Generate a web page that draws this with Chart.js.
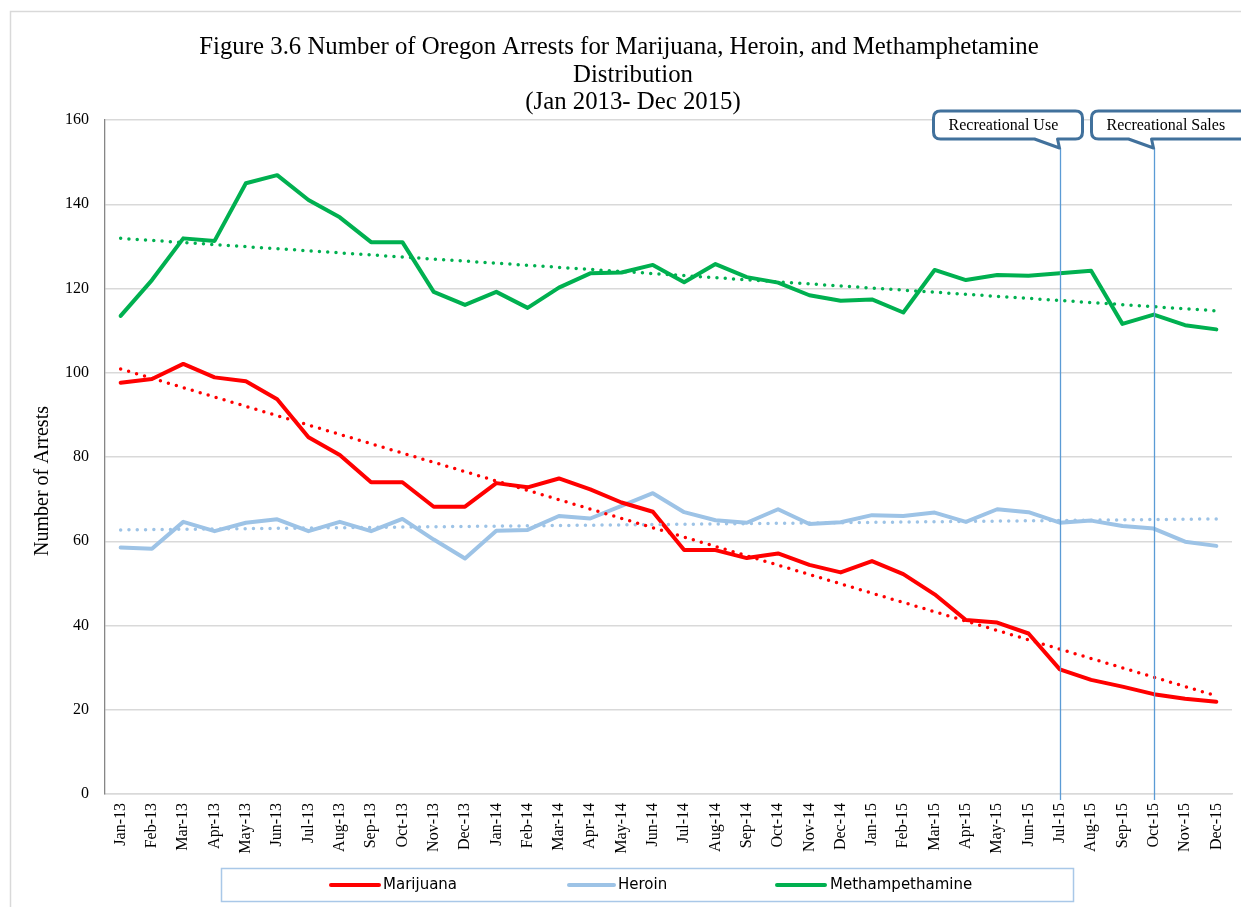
<!DOCTYPE html>
<html>
<head>
<meta charset="utf-8">
<script src="https://cdn.jsdelivr.net/npm/chart.js@4/dist/chart.umd.min.js"></script>
<style>
  html, body { margin: 0; padding: 0; background: #ffffff; }
  canvas { display: block; }
</style>
</head>
<body>
<canvas id="c" width="1241" height="907"></canvas>
<script>
// ---- Data ----
const months = ['Jan-13','Feb-13','Mar-13','Apr-13','May-13','Jun-13','Jul-13','Aug-13','Sep-13','Oct-13','Nov-13','Dec-13',
                'Jan-14','Feb-14','Mar-14','Apr-14','May-14','Jun-14','Jul-14','Aug-14','Sep-14','Oct-14','Nov-14','Dec-14',
                'Jan-15','Feb-15','Mar-15','Apr-15','May-15','Jun-15','Jul-15','Aug-15','Sep-15','Oct-15','Nov-15','Dec-15'];

const marijuana = [97.6, 98.5, 102.1, 98.9, 98.0, 93.7, 84.7, 80.5, 74.0, 74.0, 68.2, 68.2,
                   73.8, 72.8, 74.9, 72.3, 69.2, 67.0, 57.9, 57.9, 56.0, 57.1, 54.4, 52.6,
                   55.3, 52.2, 47.4, 41.3, 40.7, 38.1, 29.6, 27.1, 25.5, 23.7, 22.6, 21.9];

const heroin = [58.5, 58.2, 64.6, 62.4, 64.4, 65.2, 62.4, 64.6, 62.4, 65.3, 60.4, 55.9,
                62.5, 62.7, 66.0, 65.4, 68.4, 71.4, 66.9, 65.0, 64.4, 67.6, 64.1, 64.5,
                66.2, 66.0, 66.8, 64.6, 67.6, 66.9, 64.4, 64.9, 63.6, 63.0, 59.9, 58.9];

const methamphetamine = [113.5, 122.0, 131.9, 131.3, 145.0, 146.9, 141.0, 136.9, 131.0, 131.0, 119.2, 116.1,
                         119.2, 115.4, 120.2, 123.6, 123.8, 125.6, 121.5, 125.8, 122.7, 121.4, 118.4, 117.1,
                         117.4, 114.3, 124.4, 122.0, 123.2, 123.0, 123.6, 124.2, 111.6, 113.8, 111.3, 110.3];

// Trendline end values (first month, last month) as drawn in the reference
const trendMarijuana = [100.9, 23.3];
const trendHeroin = [62.7, 65.3];
const trendMeth = [131.9, 114.7];

const yTicks = [0, 20, 40, 60, 80, 100, 120, 140, 160];
const seriesNames = ['Marijuana', 'Heroin', 'Methampethamine'];
const eventMonths = ['Jul-15', 'Oct-15'];
const eventTexts = ['Recreational Use', 'Recreational Sales'];
const titleLines = ['Figure 3.6 Number of Oregon Arrests for Marijuana, Heroin, and Methamphetamine', 'Distribution', '(Jan 2013- Dec 2015)'];
const yAxisTitle = 'Number of Arrests';

// ---- Styles ----
const RED = '#FF0000', BLUE = '#9DC3E6', GREEN = '#00B050';
const SERIF = '"Liberation Serif", "Times New Roman", serif';

function trendData(vals) {
  return [{x: months[0], y: vals[0]}, {x: months[months.length - 1], y: vals[1]}];
}
function solid(label, data, color) {
  return { label, data, borderColor: color, backgroundColor: color, borderWidth: 4,
           pointRadius: 0, tension: 0, borderJoinStyle: 'round', borderCapStyle: 'round' };
}
function dotted(label, data, color) {
  return { label, data, borderColor: color, backgroundColor: color, borderWidth: 3.5,
           borderDash: [0, 8.3], borderCapStyle: 'round', pointRadius: 0, tension: 0 };
}

const decor = {
  id: 'decor',
  beforeDraw(chart) {
    const ctx = chart.ctx;
    ctx.save();
    ctx.fillStyle = '#ffffff';
    ctx.fillRect(0, 0, chart.width, chart.height);
    ctx.restore();
  },
  afterDatasetsDraw(chart) {
    const ctx = chart.ctx, xs = chart.scales.x, ys = chart.scales.y;
    // event lines + callouts
    const boxLeftOffsets = [-127, -63];
    const boxRightOffsets = [22, 110];
    const boxTop = 111, boxBottom = 139;
    eventMonths.forEach((m, i) => {
      const x = Math.round(xs.getPixelForValue(months.indexOf(m))) + 0.5;
      const tipY = boxBottom + 9;
      ctx.save();
      ctx.strokeStyle = '#5B9BD5';
      ctx.lineWidth = 1.3;
      ctx.beginPath();
      ctx.moveTo(x, tipY);
      ctx.lineTo(x, ys.getPixelForValue(0) + 6);
      ctx.stroke();

      const L = x + boxLeftOffsets[i];
      const R = x + boxRightOffsets[i];
      const r = 7;
      ctx.beginPath();
      ctx.moveTo(L + r, boxTop);
      ctx.lineTo(R - r, boxTop);
      ctx.quadraticCurveTo(R, boxTop, R, boxTop + r);
      ctx.lineTo(R, boxBottom - r);
      ctx.quadraticCurveTo(R, boxBottom, R - r, boxBottom);
      ctx.lineTo(x - 3, boxBottom);
      ctx.lineTo(x - 1, tipY);
      ctx.lineTo(x - 26, boxBottom);
      ctx.lineTo(L + r, boxBottom);
      ctx.quadraticCurveTo(L, boxBottom, L, boxBottom - r);
      ctx.lineTo(L, boxTop + r);
      ctx.quadraticCurveTo(L, boxTop, L + r, boxTop);
      ctx.closePath();
      ctx.fillStyle = '#ffffff';
      ctx.fill();
      ctx.strokeStyle = '#41719C';
      ctx.lineWidth = 3;
      ctx.lineJoin = 'round';
      ctx.stroke();
      ctx.fillStyle = '#000000';
      ctx.textBaseline = 'middle';
      ctx.textAlign = 'left';
      ctx.font = '16px ' + SERIF;
      ctx.fillText(eventTexts[i], L + 15, (boxTop + boxBottom) / 2 + 1);
      ctx.restore();
    });
  },
  afterDraw(chart) {
    const ctx = chart.ctx;
    ctx.save();
    // outer frame
    ctx.strokeStyle = '#d9d9d9';
    ctx.lineWidth = 1.5;
    ctx.strokeRect(10.5, 11.5, 1400, 1000);
    // title
    ctx.fillStyle = '#000000';
    ctx.textAlign = 'center';
    ctx.textBaseline = 'middle';
    ctx.font = '24.8px ' + SERIF;
    ctx.fillText(titleLines[0], 619, 47);
    ctx.fillText(titleLines[1], 633, 75);
    ctx.fillText(titleLines[2], 633, 102);
    // y-axis title
    ctx.save();
    ctx.translate(43, 481);
    ctx.rotate(-Math.PI / 2);
    ctx.font = '20px ' + SERIF;
    ctx.fillText(yAxisTitle, 0, 0);
    ctx.restore();
    // legend
    ctx.strokeStyle = '#A9C8E8';
    ctx.lineWidth = 1.5;
    ctx.strokeRect(221.5, 868.5, 852, 33);
    const items = [
      {c: RED, x1: 331, x2: 379, tx: 383},
      {c: BLUE, x1: 569, x2: 614, tx: 618},
      {c: GREEN, x1: 777, x2: 825, tx: 830}
    ];
    ctx.font = '15px "DejaVu Sans", sans-serif';
    ctx.textAlign = 'left';
    items.forEach((it, i) => {
      ctx.strokeStyle = it.c;
      ctx.lineWidth = 4;
      ctx.lineCap = 'round';
      ctx.beginPath();
      ctx.moveTo(it.x1, 885);
      ctx.lineTo(it.x2, 885);
      ctx.stroke();
      ctx.fillStyle = '#000000';
      ctx.fillText(seriesNames[i], it.tx, 885);
    });
    ctx.restore();
  }
};

new Chart(document.getElementById('c'), {
  type: 'line',
  data: {
    labels: months,
    datasets: [
      dotted('Marijuana trend', trendData(trendMarijuana), RED),
      dotted('Heroin trend', trendData(trendHeroin), BLUE),
      dotted('Meth trend', trendData(trendMeth), GREEN),
      solid(seriesNames[0], marijuana, RED),
      solid(seriesNames[1], heroin, BLUE),
      solid(seriesNames[2], methamphetamine, GREEN)
    ]
  },
  options: {
    responsive: false,
    animation: false,
    devicePixelRatio: 1,
    layout: { padding: { top: 120, right: 9, left: 0, bottom: 0 } },
    plugins: { legend: { display: false }, title: { display: false }, tooltip: { enabled: false } },
    scales: {
      x: {
        type: 'category',
        offset: true,
        grid: { display: false, drawTicks: false },
        border: { display: true, color: '#d9d9d9', width: 1.5 },
        ticks: {
          autoSkip: false, maxRotation: 90, minRotation: 90, padding: 9,
          color: '#000000', font: { family: SERIF, size: 16 }
        },
        afterFit(scale) { scale.height = 113; scale.paddingLeft = 0; scale.paddingRight = 0; }
      },
      y: {
        min: 0, max: 160,
        afterBuildTicks(scale) { scale.ticks = yTicks.map(v => ({ value: v })); },
        grid: { color: '#d9d9d9', lineWidth: 1.5, drawTicks: false },
        border: { display: true, color: '#868686', width: 1.3 },
        ticks: { padding: 16, color: '#000000', font: { family: SERIF, size: 16 } },
        afterFit(scale) { scale.width = 105; scale.paddingTop = 0; scale.paddingBottom = 0; }
      }
    }
  },
  plugins: [decor]
});
</script>
</body>
</html>
